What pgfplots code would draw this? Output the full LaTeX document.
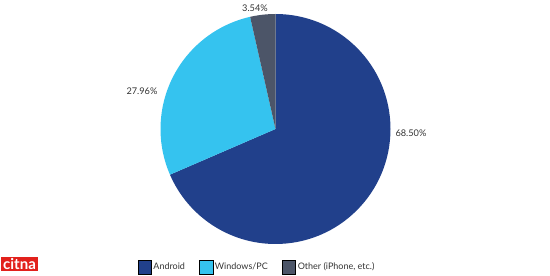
\documentclass[border=0pt]{standalone}
\usepackage{pgfplots}
\pgfplotsset{compat=1.18}
\usepackage{fontspec}
\setmainfont{Lato}
\definecolor{andc}{HTML}{21408B}
\definecolor{winc}{HTML}{35C3EF}
\definecolor{othc}{HTML}{4C5568}
\definecolor{logored}{HTML}{E2211C}
\begin{document}
\begin{tikzpicture}
% shares in percent
\def\vA{68.50}
\def\vW{27.96}
\def\vO{3.54}
\begin{axis}[
  scale only axis, width=550pt, height=276pt,
  xmin=0, xmax=550, ymin=0, ymax=276,
  hide axis, clip=false,
  legend columns=3,
  legend style={draw=none, fill=none, font=\fontsize{9}{10}\selectfont, text=black!80,
    at={(axis cs:257,9)}, anchor=center,
    /tikz/every even column/.append style={column sep=12pt},
    inner sep=0pt},
  legend image code/.code={\fill[#1] (0pt,-7pt) rectangle (13.5pt,7pt);},
]
\path (axis cs:0,0) rectangle (axis cs:550,276);
\pgfmathsetmacro{\aA}{90-3.6*\vA}
\pgfmathsetmacro{\aW}{\aA-3.6*\vW}
\pgfmathsetmacro{\aO}{\aW-3.6*\vO}
\fill[andc] (axis cs:275.5,147) -- ++(90:115pt) arc[start angle=90, end angle=\aA, radius=115pt] -- cycle;
\fill[winc] (axis cs:275.5,147) -- ++(\aA:115pt) arc[start angle=\aA, end angle=\aW, radius=115pt] -- cycle;
\fill[othc] (axis cs:275.5,147) -- ++(\aW:115pt) arc[start angle=\aW, end angle=\aO, radius=115pt] -- cycle;
\node[font=\fontsize{9.2}{10}\selectfont, text=black!80] at (axis cs:411,143) {68.50\%};
\node[font=\fontsize{9.2}{10}\selectfont, text=black!80] at (axis cs:142,185) {27.96\%};
\node[font=\fontsize{9.2}{10}\selectfont, text=black!80] at (axis cs:255,268) {3.54\%};
\node[fill=logored, text=white, font=\bfseries\fontsize{15}{15}\selectfont, anchor=south west, inner xsep=2pt, inner ysep=0.5pt, minimum height=14pt] at (axis cs:1,5) {citna};
\addlegendimage{fill=andc}\addlegendentry{Android}
\addlegendimage{fill=winc}\addlegendentry{Windows/PC}
\addlegendimage{fill=othc}\addlegendentry{Other (iPhone, etc.)}
\end{axis}
\end{tikzpicture}
\end{document}
